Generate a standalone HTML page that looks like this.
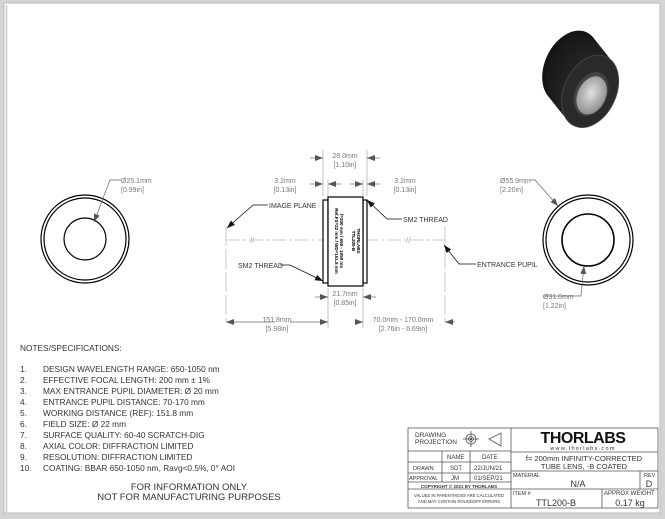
<!DOCTYPE html>
<html><head><meta charset="utf-8"><style>
html,body{margin:0;padding:0;background:#d4d4d4;}
svg{display:block;font-family:"Liberation Sans",sans-serif;}
</style></head><body>
<svg width="665" height="519" viewBox="0 0 665 519" xmlns="http://www.w3.org/2000/svg">
<defs>
<marker id="a" markerWidth="8" markerHeight="6" refX="8" refY="3" orient="auto" markerUnits="userSpaceOnUse"><path d="M0,0 L8,3 L0,6 z" fill="#555"/></marker>
<marker id="ab" markerWidth="8" markerHeight="6" refX="8" refY="3" orient="auto" markerUnits="userSpaceOnUse"><path d="M0,0 L8,3 L0,6 z" fill="#111"/></marker>
<radialGradient id="lg" cx="0.45" cy="0.45" r="0.6"><stop offset="0" stop-color="#e0e0e0"/><stop offset="1" stop-color="#8a8a8a"/></radialGradient>
</defs>
<rect x="0" y="0" width="665" height="519" fill="#d4d4d4"/>
<rect x="4" y="3" width="656" height="510" fill="#fff" stroke="#bbb" stroke-width="1"/>
<line x1="6.5" y1="5" x2="6.5" y2="512" stroke="#ccc" stroke-width="1.5"/>

<!-- lens photo -->
<g transform="rotate(25 580 80)">
<ellipse cx="566" cy="72" rx="26" ry="38" fill="#151515"/>
<ellipse cx="570" cy="74" rx="26" ry="38" fill="#181818"/>
<ellipse cx="574" cy="76" rx="26" ry="38" fill="#1a1a1a"/>
<ellipse cx="578" cy="78" rx="26" ry="38" fill="#1c1c1c"/>
<ellipse cx="582" cy="80" rx="26" ry="38" fill="#1e1e1e"/>
<ellipse cx="586" cy="82" rx="26" ry="38" fill="#202020"/>
<ellipse cx="590" cy="84" rx="26" ry="38" fill="#222"/>
<ellipse cx="594" cy="86" rx="26" ry="38" fill="#2a2a2a" stroke="#4a4a4a" stroke-width="0.8"/>
<ellipse cx="596" cy="88" rx="16" ry="23" fill="#444"/>
<ellipse cx="597" cy="89" rx="14" ry="20" fill="url(#lg)"/>
</g>

<!-- left circle -->
<g fill="none" stroke="#000" stroke-width="1.2">
<circle cx="85" cy="239" r="44"/><circle cx="85" cy="239" r="41"/><circle cx="85" cy="239" r="21"/>
</g>
<polyline points="121,180 110,180 94,222" fill="none" stroke="#666" stroke-width="0.7" marker-end="url(#a)"/>
<text x="121" y="183" font-size="7" fill="#777">Ø25.1mm</text>
<text x="121" y="192" font-size="7" fill="#777">[0.99in]</text>

<!-- right circle -->
<g fill="none" stroke="#000" stroke-width="1.2">
<circle cx="588" cy="240" r="45"/><circle cx="588" cy="240" r="42"/><circle cx="588" cy="240" r="26" stroke-width="1.6"/>
</g>
<polyline points="530,180 535,180 558,206" fill="none" stroke="#666" stroke-width="0.7" marker-end="url(#a)"/>
<text x="500" y="183" font-size="7" fill="#777">Ø55.9mm</text>
<text x="500" y="192" font-size="7" fill="#777">[2.20in]</text>
<polyline points="543,296 581,296 584,266" fill="none" stroke="#666" stroke-width="0.7" marker-end="url(#a)"/>
<text x="543" y="299" font-size="7" fill="#777">Ø31.0mm</text>
<text x="543" y="308" font-size="7" fill="#777">[1.22in]</text>

<!-- center side view -->
<line x1="226" y1="240" x2="445" y2="240" stroke="#bbb" stroke-width="0.8" stroke-dasharray="14,3,3,3"/>
<text x="250" y="243" font-size="8" fill="#aaa">//</text>
<text x="406" y="243" font-size="8" fill="#aaa">//</text>
<line x1="226" y1="226" x2="226" y2="322" stroke="#bbb" stroke-width="0.8" stroke-dasharray="20,3"/>
<line x1="445" y1="226" x2="445" y2="322" stroke="#bbb" stroke-width="0.8" stroke-dasharray="20,3"/>
<g fill="#fff" stroke="#000" stroke-width="1.2">
<rect x="323" y="200" width="5" height="83"/>
<rect x="363" y="200" width="4" height="83"/>
<rect x="328" y="197" width="35" height="89"/>
</g>
<text transform="translate(340,241) rotate(90)" font-size="4.5" font-weight="bold" text-anchor="middle">f=200 mm / 650 - 1050 nm</text>
<text transform="translate(335,241) rotate(90)" font-size="4.5" font-weight="bold" text-anchor="middle">Ref.FS=22 mm / WD=151.8 mm</text>
<text transform="translate(357,241) rotate(90)" font-size="4.5" font-weight="bold" text-anchor="middle">THORLABS</text>
<text transform="translate(352,241) rotate(90)" font-size="4.5" font-weight="bold" text-anchor="middle">TTL200-B</text>
<g stroke="#aaa" stroke-width="0.7">
<line x1="323" y1="150" x2="323" y2="196"/><line x1="367" y1="150" x2="367" y2="196"/>
<line x1="328" y1="180" x2="328" y2="196"/><line x1="363" y1="180" x2="363" y2="196"/>
<line x1="328" y1="288" x2="328" y2="328"/><line x1="363" y1="288" x2="363" y2="328"/>
</g>
<g stroke="#666" stroke-width="0.7" fill="none">
<line x1="310" y1="158" x2="323" y2="158" marker-end="url(#a)"/><line x1="380" y1="158" x2="367" y2="158" marker-end="url(#a)"/>
<line x1="310" y1="184" x2="323" y2="184" marker-end="url(#a)"/><line x1="341" y1="184" x2="328" y2="184" marker-end="url(#a)"/>
<line x1="350" y1="184" x2="363" y2="184" marker-end="url(#a)"/><line x1="380" y1="184" x2="367" y2="184" marker-end="url(#a)"/>
<line x1="315" y1="297" x2="328" y2="297" marker-end="url(#a)"/><line x1="376" y1="297" x2="363" y2="297" marker-end="url(#a)"/>
<line x1="275" y1="322" x2="226" y2="322" marker-end="url(#a)"/><line x1="290" y1="322" x2="328" y2="322" marker-end="url(#a)"/>
<line x1="355" y1="322" x2="363" y2="322" marker-end="url(#a)"/><line x1="455" y1="322" x2="445" y2="322" marker-end="url(#a)"/>
</g>
<g font-size="7" fill="#777" text-anchor="middle">
<text x="345" y="158">28.0mm</text><text x="345" y="167">[1.10in]</text>
<text x="285" y="183">3.2mm</text><text x="285" y="192">[0.13in]</text>
<text x="405" y="183">3.2mm</text><text x="405" y="192">[0.13in]</text>
<text x="345" y="296">21.7mm</text><text x="345" y="305">[0.85in]</text>
<text x="277" y="322">151.8mm</text><text x="277" y="331">[5.98in]</text>
<text x="403" y="322">70.0mm - 170.0mm</text><text x="403" y="331">[2.76in - 6.69in]</text>
</g>
<g stroke="#111" stroke-width="0.8" fill="none">
<polyline points="268,205 253,205 227,228" marker-end="url(#ab)"/>
<polyline points="402,219 387,219 367,200" marker-end="url(#ab)"/>
<polyline points="280,265 290,265 323,281" marker-end="url(#ab)"/>
<polyline points="476,264 459,264 444,245" marker-end="url(#ab)"/>
</g>
<g font-size="7" fill="#333">
<text x="269" y="208">IMAGE PLANE</text>
<text x="403" y="222">SM2 THREAD</text>
<text x="238" y="268">SM2 THREAD</text>
<text x="477" y="267">ENTRANCE PUPIL</text>
</g>

<!-- notes -->
<g font-size="8.3" fill="#333">
<text x="20" y="351">NOTES/SPECIFICATIONS:</text>
<text x="20" y="372">1.</text><text x="43" y="372">DESIGN WAVELENGTH RANGE: 650-1050 nm</text>
<text x="20" y="383">2.</text><text x="43" y="383">EFFECTIVE FOCAL LENGTH: 200 mm ± 1%</text>
<text x="20" y="394">3.</text><text x="43" y="394">MAX ENTRANCE PUPIL DIAMETER: Ø 20 mm</text>
<text x="20" y="405">4.</text><text x="43" y="405">ENTRANCE PUPIL DISTANCE: 70-170 mm</text>
<text x="20" y="416">5.</text><text x="43" y="416">WORKING DISTANCE (REF): 151.8 mm</text>
<text x="20" y="427">6.</text><text x="43" y="427">FIELD SIZE: Ø 22 mm</text>
<text x="20" y="438">7.</text><text x="43" y="438">SURFACE QUALITY: 60-40 SCRATCH-DIG</text>
<text x="20" y="449">8.</text><text x="43" y="449">AXIAL COLOR: DIFFRACTION LIMITED</text>
<text x="20" y="460">9.</text><text x="43" y="460">RESOLUTION: DIFFRACTION LIMITED</text>
<text x="20" y="471">10.</text><text x="43" y="471">COATING: BBAR 650-1050 nm, Ravg&lt;0.5%, 0° AOI</text>
</g>
<g font-size="9.5" fill="#333" text-anchor="middle">
<text x="189" y="490">FOR INFORMATION ONLY</text>
<text x="189" y="500">NOT FOR MANUFACTURING PURPOSES</text>
</g>

<!-- title block -->
<g fill="none" stroke="#555" stroke-width="0.8">
<rect x="408" y="428" width="250" height="80"/>
<line x1="511" y1="428" x2="511" y2="508"/>
<line x1="408" y1="451" x2="511" y2="451"/>
<line x1="408" y1="462" x2="511" y2="462"/>
<line x1="408" y1="473" x2="511" y2="473"/>
<line x1="408" y1="482" x2="511" y2="482"/>
<line x1="408" y1="489" x2="511" y2="489"/>
<line x1="442" y1="451" x2="442" y2="482"/>
<line x1="470" y1="451" x2="470" y2="482"/>
<line x1="511" y1="452" x2="658" y2="452"/>
<line x1="511" y1="471" x2="658" y2="471"/>
<line x1="511" y1="489" x2="658" y2="489"/>
<line x1="640" y1="471" x2="640" y2="489"/>
<line x1="602" y1="489" x2="602" y2="508"/>
<circle cx="471" cy="439" r="5"/><circle cx="471" cy="439" r="2.5"/>
<line x1="463" y1="439" x2="479" y2="439"/><line x1="471" y1="431" x2="471" y2="447"/>
<polygon points="489,439 501,433 501,446"/>
</g>
<circle cx="471" cy="439" r="1" fill="#333"/>
<g fill="#333">
<text x="415" y="437" font-size="6.5">DRAWING</text>
<text x="415" y="444" font-size="6.5">PROJECTION</text>
<text x="447" y="459" font-size="6">NAME</text><text x="482" y="459" font-size="6">DATE</text>
<text x="413" y="470" font-size="5.5">DRAWN</text><text x="450" y="470" font-size="6">SDT</text><text x="474" y="470" font-size="6">22/JUN/21</text>
<text x="409" y="480" font-size="5.5">APPROVAL</text><text x="451" y="480" font-size="6">JM</text><text x="474" y="480" font-size="6">01/SEP/21</text>
<text x="459" y="488" font-size="4.5" font-weight="bold" text-anchor="middle">COPYRIGHT © 2021 BY THORLABS</text>
<text x="459" y="497" font-size="4.2" text-anchor="middle">VALUES IN PARENTHESIS ARE CALCULATED</text>
<text x="459" y="503" font-size="4.2" text-anchor="middle">AND MAY CONTAIN ROUNDOFF ERRORS</text>
<text x="583" y="443" font-size="16" font-weight="bold" text-anchor="middle" fill="#111" letter-spacing="-0.5">THORLABS</text>
<text x="583" y="450" font-size="5.5" text-anchor="middle" letter-spacing="1.3">www.thorlabs.com</text>
<text x="584" y="461" font-size="7.5" text-anchor="middle">f= 200mm INFINITY-CORRECTED</text>
<text x="584" y="469" font-size="7.5" text-anchor="middle">TUBE LENS, -B COATED</text>
<text x="513" y="477" font-size="5.5">MATERIAL</text>
<text x="578" y="487" font-size="9" text-anchor="middle">N/A</text>
<text x="644" y="477" font-size="5.5">REV</text>
<text x="649" y="487" font-size="9" text-anchor="middle">D</text>
<text x="513" y="495" font-size="5.5">ITEM #</text>
<text x="556" y="506" font-size="9" text-anchor="middle">TTL200-B</text>
<text x="604" y="495" font-size="6">APPROX WEIGHT</text>
<text x="630" y="506" font-size="9" text-anchor="middle">0.17 kg</text>
</g>
</svg>
</body></html>
